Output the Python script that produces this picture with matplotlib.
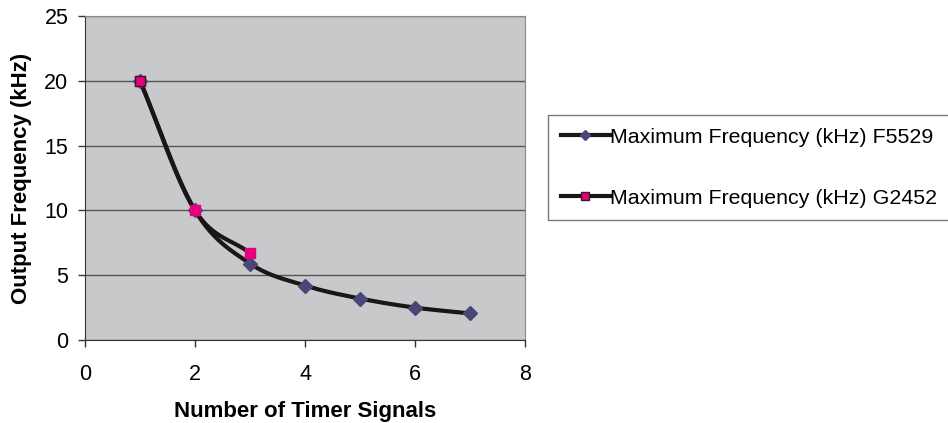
import numpy as np
import matplotlib.pyplot as plt

plt.rcParams['font.family'] = ['Liberation Sans', 'DejaVu Sans']

# data
signals_f5529 = [1, 2, 3, 4, 5, 6, 7]
freq_f5529 = [20, 10, 5.9, 4.2, 3.2, 2.5, 2.05]
signals_g2452 = [1, 2, 3]
freq_g2452 = [20, 10, 6.7]
labels = ["Maximum Frequency (kHz) F5529", "Maximum Frequency (kHz) G2452"]


def smooth(x, y, n=30):
    # Catmull-Rom curve through the points, like Excel's smoothed line
    x = np.asarray(x, float)
    y = np.asarray(y, float)
    px = np.concatenate([[2 * x[0] - x[1]], x, [2 * x[-1] - x[-2]]])
    py = np.concatenate([[2 * y[0] - y[1]], y, [2 * y[-1] - y[-2]]])
    t = np.linspace(0, 1, n)
    xs, ys = [], []
    for i in range(1, len(px) - 2):
        for p, out in ((px, xs), (py, ys)):
            p0, p1, p2, p3 = p[i - 1], p[i], p[i + 1], p[i + 2]
            out.extend(0.5 * ((2 * p1) + (-p0 + p2) * t
                              + (2 * p0 - 5 * p1 + 4 * p2 - p3) * t ** 2
                              + (-p0 + 3 * p1 - 3 * p2 + p3) * t ** 3))
    return xs, ys


fig = plt.figure(figsize=(9.48, 4.23), dpi=100)
ax = fig.add_axes([85 / 948, 1 - 340 / 423, 440 / 948, 324 / 423])
ax.set_facecolor('#c8c9cb')

ax.yaxis.grid(True, color='#555555', linewidth=1)
ax.set_axisbelow(True)

xs, ys = smooth(signals_f5529, freq_f5529)
ax.plot(xs, ys, color='#1a1516', linewidth=3, solid_capstyle='round')
xs, ys = smooth(signals_g2452, freq_g2452)
ax.plot(xs, ys, color='#1a1516', linewidth=3, solid_capstyle='round')

ax.plot(signals_f5529, freq_f5529, linestyle='none', marker='D', markersize=7,
        color='#4a4677', markeredgecolor='#4a4677')
ax.plot(signals_g2452, freq_g2452, linestyle='none', marker='s', markersize=7.5,
        color='#e6007e', markeredgecolor='#e6007e')
ax.plot(signals_g2452[:1], freq_g2452[:1], linestyle='none', marker='s', markersize=7.5,
        color='#e6007e', markeredgecolor='#3a1a25', markeredgewidth=1)

ax.set_xlim(0, 8)
ax.set_ylim(0, 25)
ax.set_xticks(range(0, 9, 2))
ax.set_yticks(range(0, 26, 5))
ax.tick_params(labelsize=15.5, direction='out', length=5, width=1, color='#333333')
ax.tick_params(axis='x', pad=12)
ax.tick_params(axis='y', pad=7)

for s in ['left', 'bottom']:
    ax.spines[s].set_color('#333333')
for s in ['top', 'right']:
    ax.spines[s].set_color('#8a8a8a')

ax.set_xlabel("Number of Timer Signals", fontsize=16, fontweight='bold', labelpad=12)
ax.set_ylabel("Output Frequency (kHz)", fontsize=16, fontweight='bold', labelpad=9)

handles = [
    plt.Line2D([], [], color='#1a1516', linewidth=3, marker='D', markersize=5,
               markerfacecolor='#4a4677', markeredgecolor='#4a4677'),
    plt.Line2D([], [], color='#1a1516', linewidth=3, marker='s', markersize=6,
               markerfacecolor='#e6007e', markeredgecolor='#3a1a25'),
]
leg = fig.legend(handles, labels, loc='upper left', bbox_to_anchor=(548 / 948, 1 - 115 / 423),
                 fontsize=15.4, frameon=True, fancybox=False, handlelength=2.3,
                 handletextpad=0.0, labelspacing=1.95, borderpad=0.6, borderaxespad=0)
leg.get_frame().set_edgecolor('#555555')
leg.get_frame().set_linewidth(1)

fig.savefig('out.png', dpi=100)
